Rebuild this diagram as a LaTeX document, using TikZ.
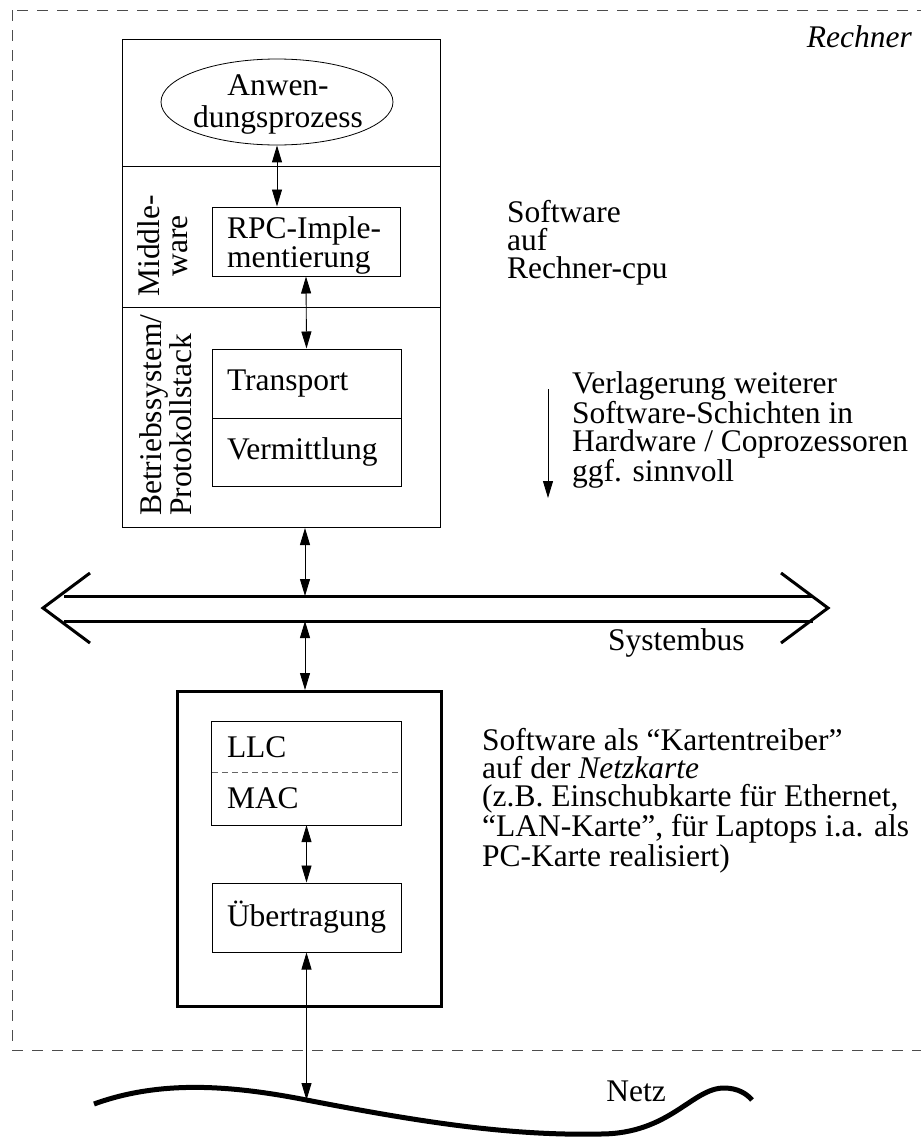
\documentclass[tikz,border=0pt]{standalone}
\usepackage{fontspec}
\setmainfont{Liberation Serif}
\usetikzlibrary{arrows.meta,shapes.geometric}
\begin{document}
\begin{tikzpicture}[x=1pt,y=-1pt,
  every node/.style={font=\fontsize{31.5}{28}\selectfont, inner sep=0pt},
  frame/.style={line width=0.8pt, dash pattern=on 11pt off 9pt, black!70},
  thinline/.style={line width=1pt},
  cell/.style={draw, line width=1pt, align=left, inner xsep=15pt, inner ysep=0pt},
  cellplain/.style={align=left, inner xsep=15pt, inner ysep=0pt},
  biarrow/.style={line width=0.9pt, {Triangle[length=17pt,width=10pt]}-{Triangle[length=17pt,width=10pt]}},
  downarrow/.style={line width=0.9pt, -{Triangle[length=17pt,width=10pt]}},
  bus/.style={line width=3pt},
  divider/.style={line width=0.8pt, black!60, dash pattern=on 6pt off 4pt},
  netz/.style={line width=5pt}
]
\useasboundingbox (0,0) rectangle (921,1138);

% computer boundary (right side lies beyond the page)
\draw[frame] (12,10) rectangle (940,1050);
\node[anchor=base east, font=\fontsize{31.5}{28}\selectfont\itshape] (rechner) at (912,47) {Rechner};

% host software stack
\node[draw, line width=1pt, minimum width=318pt, minimum height=488pt, anchor=north west] (host) at (122,39) {};
\coordinate (d1) at (122,166);
\coordinate (d2) at (122,307);
\draw[thinline] (d1) -- (d1 -| host.east);
\draw[thinline] (d2) -- (d2 -| host.east);

\node[draw, ellipse, line width=0.8pt, minimum width=232pt, minimum height=86pt] (app) at (277,102) {};
\node[anchor=base, align=center, font=\fontsize{31.5}{32}\selectfont] (apptext) at (278,127) {Anwen-\\dungsprozess};

\node[rotate=90, align=center] (mw) at (163,246) {Middle-\\ware};
\node[draw, line width=1pt, minimum width=188pt, minimum height=69pt] (rpc) at (306,241.5) {};
\node[anchor=base west, align=left, font=\fontsize{31.5}{29}\selectfont] (rpctext) at (227,267) {RPC-Imple-\\mentierung};

\node[rotate=90, align=left, anchor=south west] (bs) at (192,516) {Betriebssystem/\\Protokollstack};
\node[cell, text width=159pt, minimum height=69pt] (trans) at (306.5,383.5) {Transport};
\node[cell, text width=159pt, minimum height=68pt] (verm) at (306.5,452) {Vermittlung};

\draw[biarrow] (app.south) -- (app.south |- rpc.north);
\draw[biarrow] (rpc.south) -- (trans.north);

% right-hand notes
\node[anchor=base west, align=left] (sw) at (507,278) {Software\\auf\\Rechner-cpu};
\node[anchor=base west, align=left] (verl) at (572,481) {Verlagerung weiterer\\Software-Schichten in\\Hardware / Coprozessoren\\ggf. sinnvoll};
\coordinate (vtop) at (548,389);
\coordinate (vbot) at (548,498);
\draw[downarrow] (vtop) -- (vbot);

% system bus
\coordinate (busL) at (43,608);
\coordinate (busR) at (828,608);
\draw[bus] (64,596) -- (813,596);
\draw[bus] (64,621) -- (813,621);
\draw[bus, miter limit=10] (90,573) -- (busL) -- (90,643);
\draw[bus, miter limit=10] (781,573) -- (busR) -- (781,643);
\node[anchor=base west] (sysbus) at (608,650) {Systembus};
\coordinate (busT) at (305,596);
\coordinate (busB) at (305,621);
\draw[biarrow] (host.south -| busT) -- (busT);

% network card
\node[draw, line width=3pt, minimum width=264pt, minimum height=315pt, anchor=north west] (card) at (176,690) {};
\draw[biarrow] (busB) -- (card.north -| busB);
\node[cellplain, text width=159pt, minimum height=50pt] (llc) at (306.5,747) {LLC};
\node[cellplain, text width=159pt, minimum height=53pt] (mac) at (306.5,798.5) {MAC};
\draw[thinline] (llc.north west) rectangle (mac.south east);
\draw[divider] (llc.south west) -- (llc.south east);
\node[cell, text width=159pt, minimum height=69pt] (ueb) at (306.5,917.5) {Übertragung};
\draw[biarrow] (mac.south) -- (ueb.north);

\node[anchor=base west, align=left] (cardtext) at (482,866) {Software als “Kartentreiber”\\auf der \textit{Netzkarte}\\(z.B. Einschubkarte für Ethernet,\\“LAN-Karte”, für Laptops i.a. als\\PC-Karte realisiert)};

% network
\coordinate (netzpt) at (306.5,1100);
\draw[netz, line cap=butt]
  (94,1104) .. controls (160,1080) and (230,1085) .. (netzpt)
  .. controls (420,1122) and (510,1136) .. (600,1134)
  .. controls (670,1134) and (692,1088) .. (724,1088)
  .. controls (738,1088) and (747,1094) .. (752,1100);
\draw[biarrow] (ueb.south) -- (netzpt);
\node[anchor=base] (netzlabel) at (636,1101) {Netz};
\end{tikzpicture}
\end{document}
